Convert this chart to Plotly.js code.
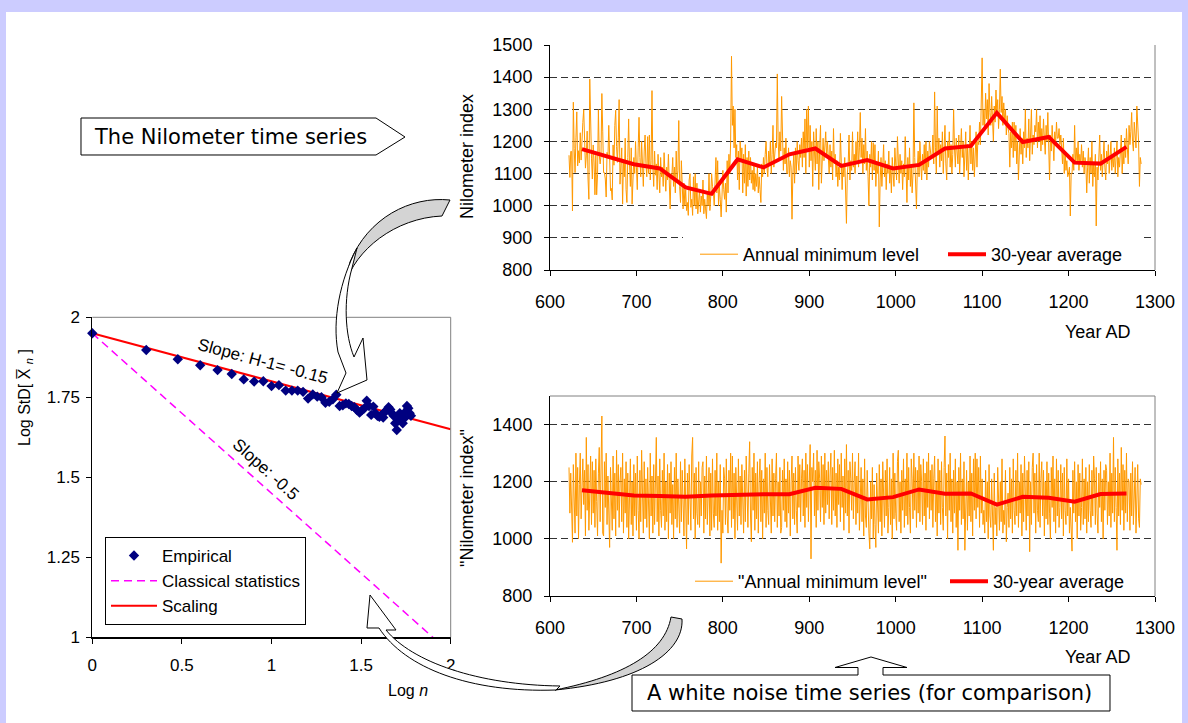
<!DOCTYPE html>
<html><head><meta charset="utf-8">
<script src="https://cdn.plot.ly/plotly-3.0.1.min.js"></script>
<style>html,body{margin:0;padding:0;background:#ccccff;overflow:hidden;}#chart{width:1188px;height:723px;}</style>
</head><body><div id="chart"></div>
<script>
const W = 1188, H = 723;
const startYear = 622;
const nileMin = [
1157,1088,1169,1169,984,1322,1178,1103,1211,1292,
1124,1171,1133,1227,1142,1216,1259,1299,1232,1117,
1155,1232,1083,1020,1394,1196,1148,1083,1189,1133,
1034,1157,1034,1097,1299,1157,1130,1155,1349,1232,
1103,1103,1083,1027,1166,1148,1250,1155,1047,1054,
1018,1189,1126,1250,1297,1184,1135,1211,1330,1067,
1110,1180,1005,1140,1090,1210,1050,1010,1150,1270,
1130,1060,1180,1005,1080,1150,1100,1200,1120,1050,
1180,1275,1150,1090,1200,1110,1060,1170,1220,1130,
1090,1215,1100,1220,1080,1140,1358,1120,1060,1170,
1095,1130,1050,1160,1110,1040,1150,1090,1120,1060,
1165,1100,1045,1120,1080,1160,1070,990,1100,1090,
1150,1060,1120,1040,1170,1080,1110,1265,1060,1010,
1140,1040,990,1070,1000,1050,985,1010,970,1080,
1100,995,1020,970,1090,1000,1100,990,1070,975,
1010,1050,980,1030,1000,1080,975,1020,990,960,
1040,1000,1100,985,1030,1100,1060,1045,1000,1090,
1150,1040,1140,1000,1060,1020,965,1030,1110,1050,
1020,1070,980,1140,1040,1160,1100,1200,1465,1250,
1310,1180,1300,1150,1190,1080,1170,1050,1200,1140,
1180,1040,1160,1070,1190,1030,1150,1060,1170,1080,
1150,1070,1110,1050,1130,1045,1100,1060,1120,1040,
1090,1050,1010,1130,1090,1150,1100,1160,1200,1120,
1090,1170,1130,1200,1100,1160,1250,1120,1180,1195,
1180,1410,1200,1140,1230,1170,1340,1200,1110,1180,
1130,1210,1100,1100,1180,1090,1140,1120,958,1100,
1160,1070,1180,1100,1200,1140,1110,1190,1150,1210,
1120,1230,1150,1270,1100,1300,1180,1310,1120,1250,
1140,1200,1060,1230,1160,1110,1240,1130,1200,1050,
1180,1250,1070,1170,1210,1140,1190,1230,1150,1200,
1150,1100,1190,1120,1170,1080,1240,1130,1160,1090,
1140,1060,1120,1080,1225,1100,1050,1130,1090,1150,
1070,945,1100,1130,1220,1080,1140,1110,1230,1120,
1160,1100,1200,1140,1230,1120,1180,1290,1150,1210,
1100,1190,1130,1240,1110,1170,1090,1000,1160,1120,
1200,1080,1196,1110,1190,1060,1130,1100,1170,934,
1080,1150,1060,1120,1190,1090,1140,1050,1130,1100,
1170,1070,1120,1040,1150,1100,1060,1180,1110,1080,
1215,1120,1070,1160,1100,1140,1050,1130,1090,1215,
1120,1010,1150,1080,1180,1060,1130,1040,1100,1320,
1150,1050,990,1120,1170,1090,1200,1130,1080,1160,
1110,1190,1100,1200,1080,1170,1120,1200,1160,1150,
1150,1220,1130,1354,1180,1100,1310,1160,1210,1120,
1190,1140,1230,1100,1180,1250,1130,1080,1200,1150,
1230,1120,1190,1100,1160,1300,1180,1120,1210,1150,
1130,1220,1100,1180,1240,1150,1200,1090,1170,1230,
1110,1190,1080,1160,1250,1130,1200,1110,1180,1090,
1170,1230,1120,1200,1190,1260,1190,1300,1460,1250,
1300,1240,1350,1270,1330,1220,1380,1290,1250,1340,
1270,1200,1310,1260,1360,1280,1330,1240,1300,1425,
1290,1340,1250,1320,1260,1300,1220,1280,1240,1225,
1120,1230,1180,1260,1150,1260,1170,1250,1130,1200,
1080,1190,1240,1160,1210,1130,1230,1180,1300,1150,
1210,1180,1270,1140,1200,1300,1160,1220,1190,1250,
1230,1300,1180,1260,1200,1280,1170,1240,1190,1270,
1210,1160,1250,1200,1290,1180,1080,1220,1170,1250,
1200,1140,1230,1190,1260,1210,1210,1240,1190,1220,
1180,1130,1210,1100,1170,1110,1140,1090,1100,1120,
968,1100,1100,1160,1110,1250,1130,1180,1130,1200,
1110,1160,1130,1190,1120,1170,1100,1150,1130,1040,
1120,1180,1070,1150,1100,1200,1060,1130,1090,1160,
937,1120,1080,1170,1220,1110,1160,1090,1150,1200,
1120,1080,1170,1130,1190,1100,1150,1200,1110,1160,
1120,1180,1100,1160,1200,1090,1150,1120,1190,1220,
1100,1170,1130,1210,1150,1240,1180,1130,1250,1190,
1230,1290,1200,1170,1260,1220,1180,1310,1240,1200,
1060,1150,1130];
const whiteNoise = [
1250,1090,1230,1130,988,1260,1150,1020,1300,1080,
1250,1000,1190,1300,1070,1150,1280,1120,1240,1010,
1355,1100,1260,1030,1200,1290,1050,1270,1090,1240,
1040,1280,1130,1010,1230,1320,1060,1190,1430,1020,
1010,1270,1110,1300,1050,1220,1080,970,1250,1120,
1030,1290,1070,1230,1010,1310,1100,1260,1040,1200,
1250,1060,1300,1020,1210,1090,1270,1040,1230,1000,
1110,1280,1050,1200,1010,1260,1080,1230,1030,1290,
1100,1000,1240,1060,1310,1120,1020,1270,1070,1210,
1040,1250,1110,1000,1300,1080,1220,1020,1260,1050,
1200,1355,1060,1220,1010,1280,1100,1040,1240,1080,
1300,1030,1200,1060,1260,1000,1230,1090,1270,1050,
1190,1000,1250,1070,1300,1040,1210,1090,1020,1270,
1060,1240,1100,1010,1280,1080,965,1230,1050,1260,
1100,1030,1290,1355,1070,1230,1000,1250,1090,1050,
1270,1040,1200,1080,1250,1270,1020,1220,1070,1290,
1050,1190,1250,1010,1230,1030,1280,1090,1040,1240,
1080,1300,1030,1200,1060,1260,915,1100,1020,1250,
1210,1050,1280,1080,1020,1240,1100,1300,1040,1290,
1070,1230,1000,1250,1110,1030,1280,1080,1220,1050,
1260,1090,1020,1240,1060,1290,1110,1040,1230,1340,
1080,990,1250,1100,1300,1030,1230,1070,1270,1020,
1200,1280,1060,1240,1000,1210,1090,1300,1040,1250,
1100,1050,1260,1110,1020,1280,1080,1230,1060,1210,
1300,1040,1200,1080,1250,1020,1040,1240,1100,1280,
1060,1210,1040,1270,1090,1240,1010,1200,1290,1070,
1230,1050,1250,1100,1020,1290,1110,1260,1060,1210,
1280,1080,1240,1040,1300,1110,1260,1060,1290,1330,
930,1250,1200,1300,1080,1240,1040,1310,1100,1270,
1210,1060,1290,1110,1260,1050,1300,1090,1240,1120,
1270,1070,1220,1300,1050,1250,1100,1310,1080,1230,
1040,1280,1120,1260,1060,1300,1110,1220,1030,1280,
1090,1330,1080,1240,1020,1270,1210,1100,1300,1070,
1200,1270,1050,1220,1090,1300,1030,1110,1250,1060,
1210,1010,1280,1080,1040,1240,1100,1020,965,1200,
1070,1250,1000,1190,1050,970,1230,1090,1020,1260,
1060,1210,1010,1270,1100,1040,1240,1080,1280,1020,
1110,1250,1050,1210,1000,1300,1070,1230,1090,1030,
1270,1310,1060,1200,1020,1240,1100,1280,1040,1210,
1080,1300,1050,1250,1110,1020,1280,1210,1070,1300,
1100,1250,1040,1240,1090,1290,1060,1260,1200,1050,
1280,1080,1230,1030,1270,1110,1300,1070,1240,1100,
1260,1040,1210,1290,1060,1200,1010,1280,1090,1240,
1050,1270,1110,1030,1250,1360,1080,1230,1000,1260,
1100,1300,1060,1210,1020,1240,1090,1280,1040,1200,
960,1250,1100,1300,1050,1210,1070,1270,960,1110,
1240,1030,1200,1080,1290,1060,1230,1010,1280,1100,
1300,1070,1280,1110,1250,1040,1290,1090,1210,1050,
1100,1020,1240,1060,1200,1000,1260,1080,1040,1210,
1090,960,1230,1050,1110,1010,1250,1070,1030,1200,
1060,1280,1020,1100,1050,1240,990,1110,1160,1040,
1250,1070,1210,1020,1280,1100,1050,1240,1080,1300,
1040,1200,1090,1260,1010,1230,1060,1290,1110,1030,
1240,1080,1270,955,1200,1050,1250,1300,1090,1230,
1020,1260,1100,1060,1300,1040,1210,1270,1080,1240,
1010,1200,1070,1270,1050,1230,1090,1000,1250,1110,
1290,1060,1210,1020,1280,1080,1240,1040,1110,1260,
1070,1230,1010,1250,1100,1050,1280,1080,1210,1020,
1110,1040,957,1240,1090,1270,1060,1200,1000,1260,
1080,1230,1030,1110,1280,1050,1210,1070,1250,1020,
1200,1060,1260,1100,1040,1240,1080,1290,1210,1050,
1250,1090,1020,1230,1110,1270,1060,1210,1000,1240,
1100,1260,1240,1050,1200,1080,1300,1040,1230,1090,
1355,1060,1250,1110,960,1280,1080,1230,1050,1320,
1100,1260,1030,1240,1090,1300,1060,1210,1200,1030,
1230,1080,1270,1050,1200,1250,1020,1110,1260,1070,
1040,1210,1190];
const avgYears = [637,667,697,727,757,787,817,847,877,907,937,967,997,1027,1057,1087,1117,1147,1177,1207,1237,1267];
const nileAvg  = [1176,1154,1129,1116,1057,1037,1144,1119,1160,1178,1124,1142,1116,1127,1178,1186,1289,1198,1214,1134,1131,1183];
const noiseAvg = [1170,1160,1152,1150,1147,1152,1155,1156,1156,1179,1175,1138,1146,1173,1158,1159,1120,1147,1144,1130,1157,1159];
const empN = [1,2,3,4,5,6,7,8,9,10,11,12,13,14,15,16,17,18,19,20,21,22,23,24,25,26,27,28,29,30,
31,32,33,34,35,36,37,38,39,40,41,42,43,44,45,46,47,48,49,50,51,52,53,54,55,56,57,58,59,60];
const empLogStd = [1.950,1.898,1.869,1.850,1.835,1.823,1.806,1.799,1.800,1.785,
1.788,1.771,1.771,1.771,1.767,1.746,1.759,1.752,1.750,1.733,
1.736,1.744,1.758,1.723,1.725,1.731,1.729,1.723,1.719,1.710,
1.702,1.710,1.716,1.739,1.723,1.695,1.721,1.700,1.692,1.689,
1.694,1.687,1.705,1.710,1.719,1.712,1.700,1.692,1.669,1.648,
1.677,1.700,1.687,1.669,1.684,1.705,1.723,1.716,1.700,1.692];
const lineLogN = [0, 2];
const classicalLogStd = [1.95, 0.95];
const scalingLogStd = [1.95, 1.65];
const yearTicks = [600,700,800,900,1000,1100,1200,1300];
const topYTicks = [800,900,1000,1100,1200,1300,1400,1500];
const botYTicks = [800,1000,1200,1400];
const logNTicks = [0,0.5,1,1.5,2];
const logNTickText = ['0','0.5','1','1.5','2'];
const logStdTicks = [1,1.25,1.5,1.75,2];
const logStdTickText = ['1','1.25','1.5','1.75','2'];

const nileYears = nileMin.map((_, i) => startYear + i);
const noiseYears = whiteNoise.map((_, i) => startYear + i);
const empLogN = empN.map(n => Math.log10(n));

const FONT = 'Liberation Sans, Arial, sans-serif';
const fnt = (s) => ({family: FONT, size: s, color: '#000'});
const px = x => x / W, py = y => 1 - y / H;
function P(d){ return d.replace(/(-?\d+(?:\.\d+)?),(-?\d+(?:\.\d+)?)/g, (m,a,b) => px(+a).toFixed(5) + ',' + py(+b).toFixed(5)); }

const traces = [
  {x: nileYears, y: nileMin, type:'scatter', mode:'lines', name:'Annual minimum level',
   line:{color:'#ff9900', width:1}, xaxis:'x', yaxis:'y', legend:'legend'},
  {x: avgYears, y: nileAvg, type:'scatter', mode:'lines', name:'30-year average',
   line:{color:'#ff0000', width:4}, xaxis:'x', yaxis:'y', legend:'legend'},
  {x: noiseYears, y: whiteNoise, type:'scatter', mode:'lines', name:'"Annual minimum level"',
   line:{color:'#ff9900', width:1}, xaxis:'x2', yaxis:'y2', legend:'legend3'},
  {x: avgYears, y: noiseAvg, type:'scatter', mode:'lines', name:'30-year average',
   line:{color:'#ff0000', width:4}, xaxis:'x2', yaxis:'y2', legend:'legend3'},
  {x: lineLogN, y: classicalLogStd, type:'scatter', mode:'lines', name:'Classical statistics', legendrank:2,
   line:{color:'#ff00ff', width:1.5, dash:'8px,5px'}, xaxis:'x3', yaxis:'y3', legend:'legend2'},
  {x: lineLogN, y: scalingLogStd, type:'scatter', mode:'lines', name:'Scaling', legendrank:3,
   line:{color:'#ff0000', width:2}, xaxis:'x3', yaxis:'y3', legend:'legend2'},
  {x: empLogN, y: empLogStd, type:'scatter', mode:'markers', name:'Empirical', legendrank:1, cliponaxis:false,
   marker:{symbol:'diamond', size:8, color:'#000080'}, xaxis:'x3', yaxis:'y3', legend:'legend2'}
];

const axBase = {showline:true, linecolor:'#000', linewidth:1, ticks:'outside', ticklen:5, tickcolor:'#000',
  tickwidth:1, zeroline:false, showgrid:false, fixedrange:true};

const layout = {
  width: W, height: H, margin:{l:0, r:0, t:0, b:0, pad:0, autoexpand:false},
  paper_bgcolor:'#ccccff', plot_bgcolor:'#ffffff', showlegend:true,
  xaxis: Object.assign({}, axBase, {domain:[550/W, 1155/W], range:[600,1300], tickvals:yearTicks,
    tickfont:fnt(18), anchor:'y', ticklabelstandoff:10}),
  yaxis: Object.assign({}, axBase, {domain:[py(270), py(45)], range:[800,1500], tickvals:topYTicks,
    showgrid:true, gridcolor:'#333', griddash:'7px,4px', gridwidth:1, tickfont:fnt(18), anchor:'x', ticklabelstandoff:8}),
  xaxis2: Object.assign({}, axBase, {domain:[550/W, 1155/W], range:[600,1300], tickvals:yearTicks,
    tickfont:fnt(18), anchor:'y2', ticklabelstandoff:10}),
  yaxis2: Object.assign({}, axBase, {domain:[py(596), py(396)], range:[800,1500], tickvals:botYTicks,
    showgrid:true, gridcolor:'#333', griddash:'7px,4px', gridwidth:1, tickfont:fnt(18), anchor:'x2', ticklabelstandoff:8}),
  xaxis3: Object.assign({}, axBase, {domain:[92.3/W, 450.7/W], range:[0,2], tickvals:logNTicks, ticktext:logNTickText,
    tickfont:fnt(17), anchor:'y3', linewidth:2, ticklabelstandoff:6}),
  yaxis3: Object.assign({}, axBase, {domain:[py(637.3), py(317.3)], range:[1,2], tickvals:logStdTicks, ticktext:logStdTickText,
    tickfont:fnt(17), anchor:'x3', ticklabelstandoff:3}),
  legend: {orientation:'h', x:px(695), y:py(236), xanchor:'left', yanchor:'top', bgcolor:'rgba(255,255,255,0)', borderwidth:0,
    font:fnt(18), itemwidth:38, entrywidth:195, tracegroupgap:0},
  legend3: {orientation:'h', x:px(690), y:py(563), xanchor:'left', yanchor:'top', bgcolor:'rgba(255,255,255,0)', borderwidth:0,
    font:fnt(18), itemwidth:38, entrywidth:202, tracegroupgap:0},
  legend2: {x:px(105), y:py(537), xanchor:'left', yanchor:'top', bgcolor:'#ffffff', bordercolor:'#000', borderwidth:1,
    font:fnt(17), itemwidth:46, tracegroupgap:0, traceorder:'normal'},
  shapes: [
    {type:'rect', xref:'paper', yref:'paper', x0:px(6), x1:px(1182), y0:0, y1:py(12), fillcolor:'#ffffff', line:{width:0}, layer:'below'},
    {type:'rect', xref:'x domain', yref:'y domain', x0:(683-550)/605, x1:(1140-550)/605, y0:0.03, y1:0.17,
      fillcolor:'#ffffff', line:{width:0}, layer:'above'},
    {type:'line', xref:'x domain', yref:'y domain', x0:1, x1:1, y0:0, y1:1, line:{color:'#808080', width:1}},
    {type:'line', xref:'x2 domain', yref:'y2 domain', x0:1, x1:1, y0:0, y1:1, line:{color:'#808080', width:1}},
    {type:'line', xref:'x2 domain', yref:'y2 domain', x0:0, x1:1, y0:1, y1:1, line:{color:'#808080', width:1}},
    {type:'line', xref:'x3 domain', yref:'y3 domain', x0:1, x1:1, y0:0, y1:1, line:{color:'#808080', width:1}},
    {type:'line', xref:'x3 domain', yref:'y3 domain', x0:0, x1:1, y0:1, y1:1, line:{color:'#808080', width:1}},
    {type:'path', xref:'paper', yref:'paper', path:P('M 81,118 L 376,118 L 405,137 L 376,155 L 81,155 Z'),
      fillcolor:'#ffffff', line:{color:'#000', width:1}},
    {type:'path', xref:'paper', yref:'paper',
      path:P('M 632,675 L 858,675 L 858,667.5 L 835,667.5 L 871,657 L 907,667.5 L 883,667.5 L 883,675 L 1110,675 L 1110,711 L 632,711 Z'),
      fillcolor:'#ffffff', line:{color:'#000', width:1}},
    {type:'path', xref:'paper', yref:'paper',
      path:P('M 450,200 C 410,196 368,218 350,262 L 345,285 C 355,250 395,218 442,216 Z'),
      fillcolor:'#d4d4d4', line:{color:'#000', width:1}},
    {type:'path', xref:'paper', yref:'paper',
      path:P('M 357,248 C 340,280 332,320 338,352 L 346,373 L 337,393 L 367,380 L 363,338 L 354,357 C 345,335 343,300 352,268 Z'),
      fillcolor:'#ffffff', line:{color:'#000', width:1}},
    {type:'path', xref:'paper', yref:'paper',
      path:P('M 671,617 L 682,619 C 684,652 640,682 555,690 C 625,676 665,652 671,617 Z'),
      fillcolor:'#d4d4d4', line:{color:'#000', width:1}},
    {type:'path', xref:'paper', yref:'paper',
      path:P('M 556,690 C 470,693 405,668 379,628 L 367,628 L 370,595 L 396,630 L 386,630 C 412,662 478,685 560,686 Z'),
      fillcolor:'#ffffff', line:{color:'#000', width:1}}
  ],
  annotations: [
    {xref:'paper', yref:'paper', x:px(467), y:py(157), text:'Nilometer index', textangle:-90, showarrow:false,
      xanchor:'center', yanchor:'middle', font:fnt(18)},
    {xref:'paper', yref:'paper', x:px(467), y:py(498), text:'"Nilometer index"', textangle:-90, showarrow:false,
      xanchor:'center', yanchor:'middle', font:fnt(18)},
    {xref:'paper', yref:'paper', x:px(1097), y:py(332), text:'Year AD', showarrow:false, xanchor:'center', yanchor:'middle', font:fnt(18)},
    {xref:'paper', yref:'paper', x:px(1097), y:py(657), text:'Year AD', showarrow:false, xanchor:'center', yanchor:'middle', font:fnt(18)},
    {xref:'paper', yref:'paper', x:px(25), y:py(398), text:'Log StD[ X\u0305 <i><sub>n</sub></i> ]', textangle:-90, showarrow:false,
      xanchor:'center', yanchor:'middle', font:fnt(16)},
    {xref:'paper', yref:'paper', x:px(408), y:py(690), text:'Log <i>n</i>', showarrow:false, xanchor:'center', yanchor:'middle', font:fnt(16)},
    {xref:'paper', yref:'paper', x:px(263), y:py(361), text:'Slope: H-1= -0.15', textangle:15, showarrow:false,
      xanchor:'center', yanchor:'middle', font:fnt(17)},
    {xref:'paper', yref:'paper', x:px(266), y:py(469), text:'Slope: -0.5', textangle:42, showarrow:false,
      xanchor:'center', yanchor:'middle', font:fnt(17)},
    {xref:'paper', yref:'paper', x:px(230), y:py(137), text:'The Nilometer time series', showarrow:false,
      xanchor:'center', yanchor:'middle', font:{family:'DejaVu Sans, Verdana, sans-serif', size:21, color:'#000'}},
    {xref:'paper', yref:'paper', x:px(869), y:py(693), text:'A white noise time series (for comparison)', showarrow:false,
      xanchor:'center', yanchor:'middle', font:{family:'DejaVu Sans, Verdana, sans-serif', size:21, color:'#000'}}
  ]
};

Plotly.newPlot('chart', traces, layout, {displayModeBar:false, staticPlot:true});
</script>
</body></html>
